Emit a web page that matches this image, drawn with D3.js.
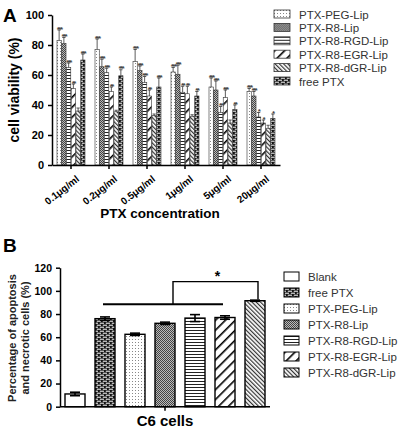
<!DOCTYPE html>
<html>
<head>
<meta charset="utf-8">
<script src="https://cdn.jsdelivr.net/npm/d3@7"></script>
<style>
  body { margin: 0; background: #fff; }
  svg { font-family: "Liberation Sans", Arial, sans-serif; }
  .axis path, .axis line { stroke: #000; stroke-width: 1.5; }
  .axis text { font-weight: bold; fill: #000; }
</style>
</head>
<body>
<svg id="chart" width="398" height="430"></svg>
<script>
// ---- panel A data ----
var concLabels = ["0.1\u03bcg/ml", "0.2\u03bcg/ml", "0.5\u03bcg/ml", "1\u03bcg/ml", "5\u03bcg/ml", "20\u03bcg/ml"];
var seriesA = ["PTX-PEG-Lip", "PTX-R8-Lip", "PTX-R8-RGD-Lip", "PTX-R8-EGR-Lip", "PTX-R8-dGR-Lip", "free PTX"];
var pegVals  = [83, 77, 69, 62, 52, 49];
var r8Vals   = [81, 65.5, 63, 60.5, 50, 46];
var rgdVals  = [65, 61.5, 55, 48.5, 35, 32];
var egrVals  = [51, 49, 46, 47.5, 45, 28];
var dgrVals  = [36, 35.5, 33, 32.5, 28, 24.5];
var freeVals = [70, 59.5, 52, 46, 37, 31];
var pegErr  = [7, 7, 8, 3, 6, 2];
var r8Err   = [4, 5, 3, 6, 6, 3];
var rgdErr  = [3, 3, 4, 4, 4, 3];
var egrErr  = [3, 3, 4, 5, 5, 2];
var dgrErr  = [2, 1, 1, 1, 2, 2];
var freeErr = [4, 4, 6, 3, 3, 3];
var pegSig  = ["***", "***", "***", "***", "***", "***"];
var r8Sig   = ["***", "***", "***", "***", "***", "***"];
var rgdSig  = ["***", "***", "***", "**", "**", "*"];
var egrSig  = ["**", "**", "**", "**", "***", "*"];
var dgrSig  = ["", "", "", "", "", ""];
var freeSig = ["***", "***", "***", "**", "**", "*"];
var yTicksA = [0, 20, 40, 60, 80, 100];

// ---- panel B data ----
var groupsB = ["Blank", "free PTX", "PTX-PEG-Lip", "PTX-R8-Lip", "PTX-R8-RGD-Lip", "PTX-R8-EGR-Lip", "PTX-R8-dGR-Lip"];
var valsB = [11, 76, 62.5, 72, 76.5, 77, 91.5];
var errB  = [1.5, 1.5, 1, 1, 3, 1.5, 0.5];
var yTicksB = [0, 20, 40, 60, 80, 100, 120];

var patternOf = {
  "Blank": "#fff",
  "free PTX": "url(#pBrick)",
  "PTX-PEG-Lip": "url(#pDots)",
  "PTX-R8-Lip": "url(#pCheck)",
  "PTX-R8-RGD-Lip": "url(#pHoriz)",
  "PTX-R8-EGR-Lip": "url(#pDiagWide)",
  "PTX-R8-dGR-Lip": "url(#pDiagFine)"
};

var svg = d3.select("#chart");
var defs = svg.append("defs");

function pattern(id, w, h) {
  return defs.append("pattern").attr("id", id)
    .attr("patternUnits", "userSpaceOnUse")
    .attr("width", w).attr("height", h);
}
// dotted
var p = pattern("pDots", 3, 3);
p.append("rect").attr("width", 3).attr("height", 3).attr("fill", "#fff");
p.append("rect").attr("width", 1).attr("height", 1).attr("fill", "#888");
// checker
p = pattern("pCheck", 2, 2);
p.append("rect").attr("width", 2).attr("height", 2).attr("fill", "#bbb");
p.append("rect").attr("width", 1).attr("height", 1).attr("fill", "#444");
p.append("rect").attr("x", 1).attr("y", 1).attr("width", 1).attr("height", 1).attr("fill", "#444");
// horizontal lines
p = pattern("pHoriz", 4, 3);
p.append("rect").attr("width", 4).attr("height", 3).attr("fill", "#fff");
p.append("rect").attr("width", 4).attr("height", 1).attr("fill", "#222");
// wide diagonal
p = pattern("pDiagWide", 7, 7).attr("patternTransform", "rotate(45)");
p.append("rect").attr("width", 7).attr("height", 7).attr("fill", "#fff");
p.append("rect").attr("width", 1.6).attr("height", 7).attr("fill", "#000");
// fine diagonal
p = pattern("pDiagFine", 3, 3).attr("patternTransform", "rotate(-45)");
p.append("rect").attr("width", 3).attr("height", 3).attr("fill", "#fff");
p.append("rect").attr("width", 1.2).attr("height", 3).attr("fill", "#333");
// brick
p = pattern("pBrick", 6, 4);
p.append("rect").attr("width", 6).attr("height", 4).attr("fill", "#111");
p.append("rect").attr("x", 0.8).attr("y", 0.7).attr("width", 4.2).attr("height", 1).attr("fill", "#fff");
p.append("rect").attr("x", 3.8).attr("y", 2.7).attr("width", 4.2).attr("height", 1).attr("fill", "#fff");
p.append("rect").attr("x", -2.2).attr("y", 2.7).attr("width", 4.2).attr("height", 1).attr("fill", "#fff");

// ================= PANEL A =================
var yA = d3.scaleLinear().domain([0, 100]).range([165, 15]);
var xA = d3.scaleBand().domain(concLabels).range([52, 280]);
var xInner = d3.scaleBand().domain(seriesA).range([5, xA.bandwidth() - 5]).paddingInner(0.1);

var valsA = [pegVals, r8Vals, rgdVals, egrVals, dgrVals, freeVals];
var errsA = [pegErr, r8Err, rgdErr, egrErr, dgrErr, freeErr];
var sigsA = [pegSig, r8Sig, rgdSig, egrSig, dgrSig, freeSig];

var barsA = [];
concLabels.forEach(function(c, i) {
  seriesA.forEach(function(s, j) {
    barsA.push({ conc: c, series: s, value: valsA[j][i], err: errsA[j][i], sig: sigsA[j][i] });
  });
});

var gA = svg.append("g");
gA.selectAll(".barA")
  .data(barsA)
  .enter().append("rect")
    .attr("class", "barA")
    .attr("x", function(d) { return xA(d.conc) + xInner(d.series); })
    .attr("y", function(d) { return yA(d.value); })
    .attr("width", xInner.bandwidth())
    .attr("height", function(d) { return yA(0) - yA(d.value); })
    .attr("fill", function(d) { return patternOf[d.series]; })
    .attr("stroke", "#333")
    .attr("stroke-width", 0.6);

var errA = gA.selectAll(".errA").data(barsA).enter().append("g").attr("class", "errA")
  .attr("stroke", "#333").attr("stroke-width", 0.8);
errA.append("line")
  .attr("x1", function(d) { return xA(d.conc) + xInner(d.series) + xInner.bandwidth() / 2; })
  .attr("x2", function(d) { return xA(d.conc) + xInner(d.series) + xInner.bandwidth() / 2; })
  .attr("y1", function(d) { return yA(d.value); })
  .attr("y2", function(d) { return yA(d.value + d.err); });
errA.append("line")
  .attr("x1", function(d) { return xA(d.conc) + xInner(d.series) + 0.5; })
  .attr("x2", function(d) { return xA(d.conc) + xInner(d.series) + xInner.bandwidth() - 0.5; })
  .attr("y1", function(d) { return yA(d.value + d.err); })
  .attr("y2", function(d) { return yA(d.value + d.err); });

gA.selectAll(".sigA").data(barsA).enter().append("text")
  .attr("class", "sigA")
  .attr("x", function(d) { return xA(d.conc) + xInner(d.series) + xInner.bandwidth() / 2; })
  .attr("y", function(d) { return yA(d.value + d.err) + 1.5; })
  .attr("text-anchor", "middle")
  .attr("font-size", 8)
  .attr("letter-spacing", -1.6)
  .attr("font-weight", "bold")
  .attr("fill", "#444")
  .text(function(d) { return d.sig; });

gA.append("g").attr("class", "axis")
  .attr("transform", "translate(52,0)")
  .call(d3.axisLeft(yA).tickValues(yTicksA).tickSize(4).tickSizeOuter(0))
  .call(function(g) { g.selectAll("text").attr("font-size", 11).attr("dx", "-1"); });

gA.append("g").attr("class", "axis")
  .attr("transform", "translate(0,165)")
  .call(d3.axisBottom(xA).tickSize(4).tickSizeOuter(0))
  .call(function(g) {
    g.selectAll("text")
      .attr("font-size", 10)
      .attr("text-anchor", "end")
      .attr("transform", "translate(0,2) rotate(-38)")
      .attr("dy", "0.9em")
      .attr("dx", "-0.1em");
  });

svg.append("text").attr("x", 3).attr("y", 22).attr("font-size", 19).attr("font-weight", "bold").text("A");
svg.append("text")
  .attr("transform", "translate(19,90) rotate(-90)")
  .attr("text-anchor", "middle").attr("font-size", 14).attr("font-weight", "bold")
  .text("cell viability (%)");
svg.append("text")
  .attr("x", 160).attr("y", 218)
  .attr("text-anchor", "middle").attr("font-size", 13.5).attr("font-weight", "bold")
  .text("PTX concentration");

var legA = svg.append("g").attr("transform", "translate(274,10)");
var legAItems = legA.selectAll("g").data(seriesA).enter().append("g")
  .attr("transform", function(d, i) { return "translate(0," + (i * 13.4) + ")"; });
legAItems.append("rect").attr("width", 16).attr("height", 8)
  .attr("fill", function(d) { return patternOf[d]; })
  .attr("stroke", "#333").attr("stroke-width", 0.8);
legAItems.append("text").attr("x", 25).attr("y", 8.5)
  .attr("font-size", 11.5).attr("fill", "#333").text(function(d) { return d; });

// ================= PANEL B =================
var yB = d3.scaleLinear().domain([0, 120]).range([406.7, 267.7]);
var xB = d3.scaleBand().domain(groupsB).range([60, 270]).paddingInner(1 / 3).paddingOuter(1 / 6);
var barsB = groupsB.map(function(g, i) { return { group: g, value: valsB[i], err: errB[i] }; });

var gB = svg.append("g");
gB.selectAll(".barB").data(barsB).enter().append("rect")
  .attr("class", "barB")
  .attr("x", function(d) { return xB(d.group); })
  .attr("y", function(d) { return yB(d.value); })
  .attr("width", xB.bandwidth())
  .attr("height", function(d) { return yB(0) - yB(d.value); })
  .attr("fill", function(d) { return patternOf[d.group]; })
  .attr("stroke", "#000").attr("stroke-width", 1.4);

var errBg = gB.selectAll(".errB").data(barsB).enter().append("g").attr("class", "errB")
  .attr("stroke", "#000").attr("stroke-width", 1.6);
errBg.append("line")
  .attr("x1", function(d) { return xB(d.group) + xB.bandwidth() / 2; })
  .attr("x2", function(d) { return xB(d.group) + xB.bandwidth() / 2; })
  .attr("y1", function(d) { return yB(d.value - d.err); })
  .attr("y2", function(d) { return yB(d.value + d.err); });
errBg.selectAll(".cap").data(function(d) { return [d.value - d.err, d.value + d.err].map(function(v) { return { group: d.group, v: v }; }); })
  .enter().append("line").attr("class", "cap")
  .attr("x1", function(d) { return xB(d.group) + xB.bandwidth() / 2 - 5; })
  .attr("x2", function(d) { return xB(d.group) + xB.bandwidth() / 2 + 5; })
  .attr("y1", function(d) { return yB(d.v); })
  .attr("y2", function(d) { return yB(d.v); });

// significance line and bracket
var lineLevel = 88.4, bracketLevel = 108;
var lx1 = xB("free PTX") + xB.bandwidth() / 2 - 2;
var lx2 = xB("PTX-R8-EGR-Lip") + xB.bandwidth() / 2 - 2;
var bx1 = xB("PTX-R8-Lip") + xB.bandwidth() - 2;
var bx2 = xB("PTX-R8-dGR-Lip") + xB.bandwidth() / 2 + 3;
gB.append("line").attr("x1", lx1).attr("x2", lx2)
  .attr("y1", yB(lineLevel)).attr("y2", yB(lineLevel))
  .attr("stroke", "#000").attr("stroke-width", 2);
gB.append("path")
  .attr("d", "M" + bx1 + "," + yB(lineLevel) + "V" + yB(bracketLevel) + "H" + bx2 + "V" + yB(valsB[6] + 1))
  .attr("fill", "none").attr("stroke", "#000").attr("stroke-width", 1.4);
gB.append("text").attr("x", (bx1 + bx2) / 2 + 2).attr("y", yB(bracketLevel) - 1)
  .attr("text-anchor", "middle").attr("font-size", 14).attr("font-weight", "bold").text("*");

gB.append("g").attr("class", "axis")
  .attr("transform", "translate(60,0)")
  .call(d3.axisLeft(yB).tickValues(yTicksB).tickSize(4).tickSizeOuter(0))
  .call(function(g) { g.selectAll("text").attr("font-size", 10.5).attr("dx", "-1"); });

gB.append("line").attr("x1", 60).attr("x2", 270)
  .attr("y1", yB(0)).attr("y2", yB(0)).attr("stroke", "#000").attr("stroke-width", 1.5);
gB.append("line").attr("x1", 165).attr("x2", 165)
  .attr("y1", yB(0)).attr("y2", yB(0) + 4).attr("stroke", "#000").attr("stroke-width", 1.5);

svg.append("text").attr("x", 3).attr("y", 252).attr("font-size", 19).attr("font-weight", "bold").text("B");
svg.append("text")
  .attr("transform", "translate(16,338) rotate(-90)")
  .attr("text-anchor", "middle").attr("font-size", 11).attr("font-weight", "bold").attr("fill", "#222")
  .text("Percentage of apoptosis");
svg.append("text")
  .attr("transform", "translate(29,338) rotate(-90)")
  .attr("text-anchor", "middle").attr("font-size", 11).attr("font-weight", "bold").attr("fill", "#222")
  .text("and necrotic cells (%)");
svg.append("text")
  .attr("x", 165).attr("y", 426)
  .attr("text-anchor", "middle").attr("font-size", 15).attr("font-weight", "bold")
  .text("C6 cells");

var legB = svg.append("g").attr("transform", "translate(284,272)");
var legBItems = legB.selectAll("g").data(groupsB).enter().append("g")
  .attr("transform", function(d, i) { return "translate(0," + (i * 16) + ")"; });
legBItems.append("rect").attr("width", 15).attr("height", 9)
  .attr("fill", function(d) { return patternOf[d]; })
  .attr("stroke", "#000").attr("stroke-width", 1);
legBItems.append("text").attr("x", 24).attr("y", 9)
  .attr("font-size", 11.5).attr("fill", "#333").text(function(d) { return d; });
</script>
</body>
</html>
